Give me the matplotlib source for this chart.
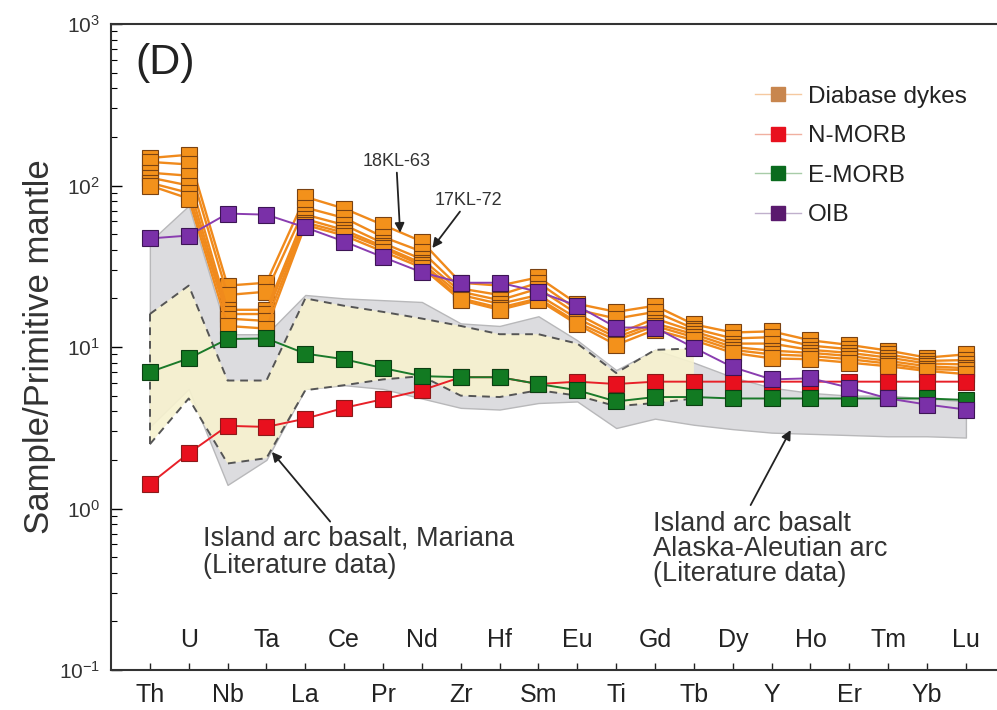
import matplotlib
matplotlib.use('Agg')
import matplotlib.pyplot as plt
import matplotlib.transforms as mtransforms
from matplotlib.lines import Line2D
import numpy as np

plt.rcParams['font.family'] = ['Liberation Sans', 'DejaVu Sans']

elements = ['Th', 'U', 'Nb', 'Ta', 'La', 'Ce', 'Pr', 'Nd', 'Zr', 'Hf', 'Sm',
            'Eu', 'Ti', 'Gd', 'Tb', 'Dy', 'Y', 'Ho', 'Er', 'Tm', 'Yb', 'Lu']

# diabase dykes, one row per sample (first = 18KL-63, second = 17KL-72)
dykes = [
    [148, 155, 24, 25, 85, 72, 57, 45, 25, 24, 27, 18.5, 16.5, 18, 13.8, 12.3, 12.5, 11, 10.3, 9.5, 8.6, 9],
    [140, 135, 21, 22, 73, 63, 48, 39, 23, 21, 25, 17, 15, 16.5, 13, 11.3, 11.5, 10.2, 9.7, 9, 8.2, 8.3],
    [120, 115, 17, 17, 66, 57, 44, 35, 22, 19.5, 23, 16, 12, 15, 12.5, 10.5, 10.5, 9.6, 9.2, 8.6, 7.9, 7.8],
    [112, 100, 16, 16, 62, 53, 42, 33, 21, 18.5, 21, 15, 11.5, 14, 12, 10, 9.5, 9.2, 8.8, 8.2, 7.6, 7.4],
    [104, 90, 15, 14.5, 59, 51, 41, 32, 20, 17.5, 20, 14.2, 11, 13.5, 11.5, 9.6, 9, 8.8, 8.4, 7.9, 7.3, 7.2],
    [100, 83, 13.5, 13, 57, 49, 39, 31, 19.5, 17, 19.5, 13.8, 10.3, 12.8, 11, 9.2, 8.5, 8.4, 8.0, 7.6, 7.1, 6.8],
]
n_morb = [1.42, 2.2, 3.25, 3.2, 3.6, 4.2, 4.75, 5.4, 6.5, 6.5, 5.9, 6.1, 5.9, 6.1, 6.1, 6.1, 6.1, 6.1, 6.1, 6.1, 6.1, 6.1]
e_morb = [7.0, 8.5, 11.2, 11.3, 9.1, 8.4, 7.4, 6.6, 6.5, 6.5, 5.9, 5.4, 4.6, 4.9, 4.9, 4.8, 4.8, 4.8, 4.8, 4.8, 4.8, 4.7]
oib = [47, 49, 67, 66, 55, 45, 36, 29, 25, 25, 22, 18, 13.2, 13.2, 9.9, 7.5, 6.3, 6.4, 5.6, 4.8, 4.4, 4.1]

# literature fields
aleut_hi = [45, 75, 12, 12, 21, 20, 19.5, 19, 14, 13.5, 15.5, 11, 7.2, 9.6, 8, 6.5, 5.6, 5.2, 5, 5, 4.8, 4.6]
aleut_lo = [3.2, 5.5, 1.4, 2.0, 5.5, 5.8, 5.5, 4.8, 4.2, 4.1, 4.5, 4.6, 3.15, 3.6, 3.3, 3.1, 2.95, 2.9, 2.85, 2.8, 2.8, 2.75]
mariana_hi = [16, 24, 6.2, 6.2, 20, 18, 16.5, 15, 13.5, 12, 12, 10.5, 6.9, 9.6, 9.8]
mariana_lo = [2.5, 4.8, 1.9, 2.05, 5.4, 5.8, 6.3, 6.6, 5.0, 4.9, 5.4, 5.0, 4.3, 4.5, 4.8]

x = np.arange(len(elements))

fig = plt.figure(figsize=(9.97, 7.10), dpi=100)
ax = fig.add_axes([111 / 997, 40 / 710, 886 / 997, 646 / 710])
ax.set_yscale('log')

# fields
ax.fill_between(x, aleut_lo, aleut_hi, facecolor='#dcdcdf', edgecolor='#b8b8ba', lw=1, zorder=1)
xm = x[:len(mariana_hi)]
ax.fill_between(xm, mariana_lo, mariana_hi, facecolor='#f7f2cf', alpha=0.9, edgecolor='none', zorder=2)
dash = dict(color='#555555', lw=1.4, ls=(0, (4, 3)), zorder=3)
ax.plot(xm, mariana_hi, **dash)
ax.plot(xm, mariana_lo, **dash)
ax.plot([xm[0], xm[0]], [mariana_lo[0], mariana_hi[0]], **dash)

for row in dykes:
    ax.plot(x, row, color='#f08a1c', lw=1.7, marker='s', ms=12, mfc='#f3911b',
            mec='#7a4212', mew=0.8, zorder=4)
ax.plot(x, n_morb, color='#e82028', lw=1.4, marker='s', ms=12, mfc='#e8101e', mec='#8b1a1a', mew=0.8, zorder=5)
ax.plot(x, e_morb, color='#1a7a2a', lw=1.4, marker='s', ms=12, mfc='#127a22', mec='#0b4012', mew=0.8, zorder=6)
ax.plot(x, oib, color='#8a3db0', lw=1.4, marker='s', ms=12, mfc='#7a30a8', mec='#3d1555', mew=0.8, zorder=7)

ax.set_xlim(-1.0, 21.8)
ax.set_ylim(0.1, 1000)

# ticks
ax.set_xticks(x)
ax.set_xticklabels([e if i % 2 == 0 else '' for i, e in enumerate(elements)], fontsize=18)
ax.tick_params(axis='x', direction='in', length=5, width=1, pad=9, colors='#222222')
trans = mtransforms.blended_transform_factory(ax.transData, ax.transAxes)
for i, e in enumerate(elements):
    if i % 2 == 1:
        ax.text(i, 0.046, e, transform=trans, ha='center', va='center', fontsize=18, color='#222222')
ax.tick_params(axis='y', which='major', direction='in', length=8, width=1, labelsize=15,
               labelcolor='#333333', pad=8)
ax.tick_params(axis='y', which='minor', direction='in', length=4, width=0.8)

for s in ['top', 'left', 'bottom']:
    ax.spines[s].set_linewidth(1.5)
    ax.spines[s].set_color('#333333')
ax.spines['right'].set_visible(False)

ax.set_ylabel('Sample/Primitive mantle', fontsize=25, color='#333333', labelpad=2)

ax.text(0.027, 0.94, '(D)', transform=ax.transAxes, fontsize=31, va='center', ha='left', color='#222222')

# sample labels
arrow = dict(arrowstyle='-|>', color='#222222', lw=1.3, mutation_scale=14, shrinkA=0, shrinkB=0)
ax.annotate('18KL-63', xy=(6.44, 51), xytext=(6.34, 125), fontsize=13, ha='center', va='bottom',
            color='#333333', arrowprops=arrow, zorder=9)
ax.annotate('17KL-72', xy=(7.27, 41), xytext=(8.2, 81), fontsize=13, ha='center', va='center',
            color='#333333', arrowprops=arrow, zorder=9)
ax.annotate('', xy=(3.14, 2.24), xytext=(4.64, 0.83), arrowprops=arrow, zorder=9)
ax.text(1.37, 0.78, 'Island arc basalt, Mariana\n(Literature data)', fontsize=19.5, va='top', ha='left',
        color='#333333', linespacing=1.05)
ax.annotate('', xy=(16.49, 3.06), xytext=(15.46, 1.05), arrowprops=arrow, zorder=9)
ax.text(12.94, 0.96, 'Island arc basalt\nAlaska-Aleutian arc\n(Literature data)', fontsize=19.5, va='top',
        ha='left', color='#333333', linespacing=0.95)

handles = [
    Line2D([], [], color='#f5c9a0', lw=1, marker='s', ms=10, mfc='#c8864e', mec='#c8864e'),
    Line2D([], [], color='#f0b0a0', lw=1, marker='s', ms=10, mfc='#e8101e', mec='#e8101e'),
    Line2D([], [], color='#a8cca8', lw=1, marker='s', ms=10, mfc='#0a6b1e', mec='#0a6b1e'),
    Line2D([], [], color='#c0b0cc', lw=1, marker='s', ms=10, mfc='#5a1a6e', mec='#5a1a6e'),
]
ax.legend(handles, ['Diabase dykes', 'N-MORB', 'E-MORB', 'OIB'], loc='upper left',
          bbox_to_anchor=(0.702, 0.938), frameon=False, fontsize=17.5, handlelength=1.9,
          handletextpad=0.3, labelspacing=0.72, labelcolor='#222222')

fig.savefig('out.png', dpi=100)
